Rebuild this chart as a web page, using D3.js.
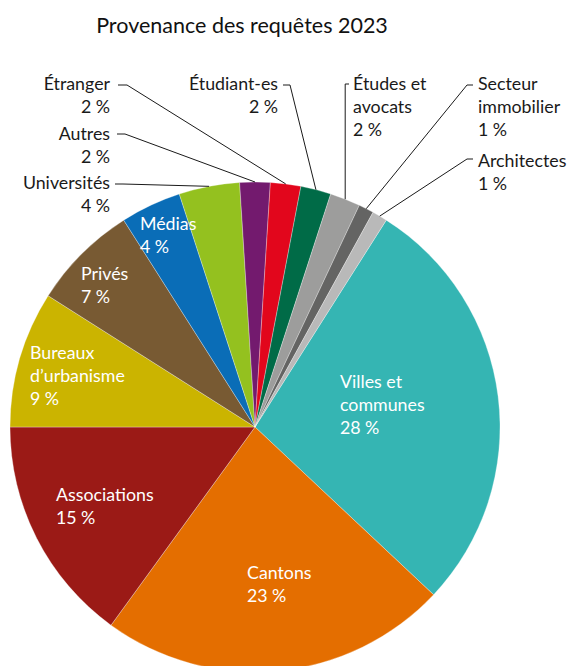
<!DOCTYPE html>
<html>
<head>
<meta charset="utf-8">
<script src="https://cdn.jsdelivr.net/npm/d3@7"></script>
<style>
  html, body { margin: 0; padding: 0; background: #fff; }
  svg { display: block; font-family: Lato, "Noto Sans", sans-serif; }
</style>
</head>
<body>
<div id="chart"></div>
<script>
// Data, clockwise starting at "Villes et communes"
const categories = [
  'Villes et communes', 'Cantons', 'Associations', 'Bureaux d\u2019urbanisme', 'Privés',
  'Médias', 'Universités', 'Autres', 'Étranger', 'Étudiant-es',
  'Études et avocats', 'Secteur immobilier', 'Architectes'
];
const values = [28, 23, 15, 9, 7, 4, 4, 2, 2, 2, 2, 1, 1];
const colors = [
  '#35b5b3', '#e46e00', '#9b1a16', '#cbb400', '#785a33',
  '#0a6db7', '#94c11f', '#731a6e', '#e2061c', '#006b47',
  '#9d9d9c', '#646463', '#b9b9b9'
];
// label text lines (without the percentage)
const labelLines = [
  ['Villes et', 'communes'], ['Cantons'], ['Associations'], ['Bureaux', 'd\u2019urbanisme'], ['Privés'],
  ['Médias'], ['Universités'], ['Autres'], ['Étranger'], ['Étudiant-es'],
  ['Études et', 'avocats'], ['Secteur', 'immobilier'], ['Architectes']
];

const width = 570, height = 666;
const cx = 255, cy = 427, radius = 245;
const lineH = 23;

// label layout: inside labels (white) or outside with leader lines
const layout = [
  { inside: true, x: 340, y: 382 },
  { inside: true, x: 247, y: 573 },
  { inside: true, x: 56, y: 495 },
  { inside: true, x: 30, y: 353 },
  { inside: true, x: 81, y: 274 },
  { inside: true, x: 140, y: 224 },
  { anchor: 'end', x: 110, y: 183, start: [115, 184], elbow: [123, 184] },
  { anchor: 'end', x: 110, y: 134, start: [117, 134], elbow: [125, 134] },
  { anchor: 'end', x: 110, y: 84, start: [118, 85], elbow: [127, 85] },
  { anchor: 'end', x: 278, y: 84, start: [283, 85], elbow: [290, 85] },
  { anchor: 'start', x: 353, y: 84, start: [349, 84], elbow: null },
  { anchor: 'start', x: 478, y: 84, start: [473, 85], elbow: [467, 85] },
  { anchor: 'start', x: 478, y: 161, start: [473, 159], elbow: [467, 159] }
];

const data = categories.map((c, i) => ({ name: c, value: values[i], color: colors[i], lines: labelLines[i], lay: layout[i] }));

const svg = d3.select('#chart').append('svg')
  .attr('width', width)
  .attr('height', height);

svg.append('text')
  .attr('x', 242)
  .attr('y', 33)
  .attr('text-anchor', 'middle')
  .attr('fill', '#111')
  .style('font-size', '21.5px')
  .text('Provenance des requêtes 2023');

const startAngle = 32.4 * Math.PI / 180;
const pie = d3.pie().sort(null).value(d => d.value)
  .startAngle(startAngle).endAngle(startAngle + 2 * Math.PI);
const arc = d3.arc().innerRadius(0).outerRadius(radius);
const arcs = pie(data);

const g = svg.append('g').attr('transform', `translate(${cx},${cy})`);

g.selectAll('path.slice')
  .data(arcs)
  .enter()
  .append('path')
  .attr('class', 'slice')
  .attr('d', arc)
  .attr('fill', d => d.data.color)
  .attr('stroke', '#fff')
  .attr('stroke-width', 0.3);

// point on the rim at the slice's mid angle
function rimPoint(d) {
  const a = (d.startAngle + d.endAngle) / 2;
  return [cx + radius * Math.sin(a), cy - radius * Math.cos(a)];
}

// leader lines
arcs.filter(d => !d.data.lay.inside).forEach(d => {
  const lay = d.data.lay;
  const end = rimPoint(d);
  const elbow = lay.elbow || [end[0], lay.start[1]];
  svg.append('polyline')
    .attr('points', [lay.start, elbow, end].map(p => p.join(',')).join(' '))
    .attr('fill', 'none')
    .attr('stroke', '#1a1a1a')
    .attr('stroke-width', 1);
});

// labels
arcs.forEach(d => {
  const lay = d.data.lay;
  const lines = d.data.lines.concat([d.data.value + '\u202F%']);
  const t = svg.append('text')
    .attr('text-anchor', lay.inside ? 'start' : lay.anchor)
    .attr('fill', lay.inside ? '#fff' : '#1a1a1a')
    .style('font-size', '17.8px');
  lines.forEach((ln, i) => {
    t.append('tspan')
      .attr('x', lay.x)
      .attr('y', lay.y + i * lineH)
      .attr('dy', '0.35em')
      .text(ln);
  });
});
</script>
</body>
</html>
